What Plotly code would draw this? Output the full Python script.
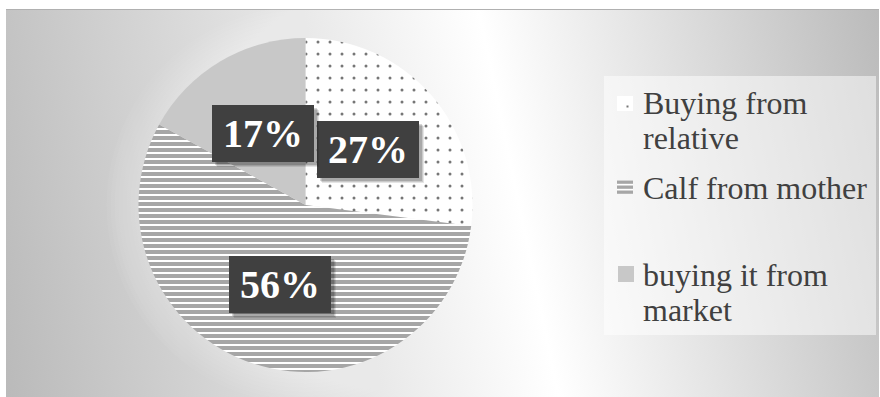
import base64
import math
import textwrap

import plotly.graph_objects as go

# ---- data ---------------------------------------------------------------
categories = ["Buying from relative", "Calf from mother", "buying it from market"]
shares = [27, 56, 17]

# ---- styling ------------------------------------------------------------
slice_bg = ["#ffffff", "#a6a6a6", "#c8c8c8"]
slice_fg = ["#767676", "#ffffff", "#c8c8c8"]
slice_shape = [".", "-", ""]
slice_size = [12, 6, 8]
slice_solid = [0.05, 0.33, 0.2]

W, H = 880, 397
SERIF = "Liberation Serif, Times New Roman, serif"

# pie placement in pixels
cx, cy, R = 305.5, 205.0, 167.0


def px_x(x):
    return x / W


def px_y(y):
    return 1 - y / H


fig = go.Figure()

fig.add_trace(go.Pie(
    labels=categories,
    values=shares,
    sort=False,
    direction="clockwise",
    rotation=0,
    textinfo="none",
    hoverinfo="label+percent",
    showlegend=False,
    domain=dict(x=[px_x(cx - R), px_x(cx + R)], y=[px_y(cy + R), px_y(cy - R)]),
    marker=dict(
        colors=slice_bg,
        line=dict(width=0),
        pattern=dict(
            shape=slice_shape,
            fgcolor=slice_fg,
            bgcolor=slice_bg,
            size=slice_size,
            solidity=slice_solid,
            fillmode="replace",
        ),
    ),
))

# ---- background: diagonal grey-white-grey gradient panel -----------------
fx0, fy0, fx1, fy1 = 6, 9, 879, 397
fw, fh = fx1 - fx0, fy1 - fy0
gx, gy = fw / 2, fh / 2
dx, dy = 0.979, -0.202
half = 466.5
svg = (
    f'<svg xmlns="http://www.w3.org/2000/svg" width="{fw}" height="{fh}">'
    f'<defs><linearGradient id="g" gradientUnits="userSpaceOnUse" '
    f'x1="{gx - dx * half:.1f}" y1="{gy - dy * half:.1f}" '
    f'x2="{gx + dx * half:.1f}" y2="{gy + dy * half:.1f}">'
    '<stop offset="0" stop-color="#bababa"/>'
    '<stop offset="0.58" stop-color="#ffffff"/>'
    '<stop offset="1" stop-color="#bbbbbb"/>'
    '</linearGradient></defs>'
    f'<rect width="{fw}" height="{fh}" fill="url(#g)"/>'
    f'<rect width="{fw}" height="1" fill="#b0b0b0"/>'
    '</svg>'
)
src = "data:image/svg+xml;base64," + base64.b64encode(svg.encode()).decode()
fig.add_layout_image(
    source=src, xref="paper", yref="paper",
    x=px_x(fx0), y=px_y(fy0), sizex=fw / W, sizey=fh / H,
    xanchor="left", yanchor="top", sizing="stretch", layer="below",
)

shapes = []

# soft halo around the pie
for k in range(8):
    r = R + 32 - k * 4
    shapes.append(dict(
        type="circle", xref="paper", yref="paper", layer="below",
        x0=px_x(cx - r), x1=px_x(cx + r), y0=px_y(cy + r), y1=px_y(cy - r),
        fillcolor="rgba(255,255,255,0.045)", line=dict(width=0),
    ))

# legend panel
shapes.append(dict(
    type="rect", xref="paper", yref="paper", layer="below",
    x0=px_x(604), x1=px_x(876), y0=px_y(335), y1=px_y(76),
    fillcolor="rgba(255,255,255,0.5)", line=dict(width=0),
))


def rect(x0, y0, x1, y1, color):
    return dict(type="rect", xref="paper", yref="paper", layer="above",
                x0=px_x(x0), x1=px_x(x1), y0=px_y(y1), y1=px_y(y0),
                fillcolor=color, line=dict(width=0))


# legend swatches
sw_x0, sw_x1 = 617, 633
legend_line_y = [[103, 138], [188], [275, 310]]
# dotted swatch
shapes.append(rect(sw_x0, 96, sw_x1, 111, "#ffffff"))
shapes.append(rect(626.5, 105.5, 628.5, 107.5, slice_fg[0]))
# striped swatch
shapes.append(rect(sw_x0, 180, sw_x1, 194, "#ffffff"))
for y0 in (180.5, 185.5, 190.5):
    shapes.append(rect(sw_x0, y0, sw_x1, y0 + 3.3, slice_bg[1]))
# solid swatch
shapes.append(rect(sw_x0 + 1, 266, sw_x1 + 1, 282, slice_bg[2]))

fig.update_layout(shapes=shapes)

# ---- percentage labels in dark boxes ------------------------------------
total = sum(shares)
cum = 0.0
BW, BH = 102, 57
for v in shares:
    mid = (cum + v / 2) / total * 2 * math.pi
    cum += v
    lx = cx + 0.5 * R * math.sin(mid)
    ly = cy - 0.5 * R * math.cos(mid)
    for off, a in ((5, 0.10), (4, 0.12), (3, 0.16)):
        fig.add_annotation(
            x=px_x(lx + off), y=px_y(ly + off), xref="paper", yref="paper",
            text=" ", showarrow=False, width=BW, height=BH,
            bgcolor=f"rgba(0,0,0,{a})", borderpad=0, borderwidth=0,
            xanchor="center", yanchor="middle",
        )
    fig.add_annotation(
        x=px_x(lx), y=px_y(ly), xref="paper", yref="paper",
        text=f"<b>{v / total * 100:.0f}%</b>", showarrow=False,
        width=BW, height=BH, bgcolor="#404040", borderpad=0, borderwidth=0,
        font=dict(family=SERIF, size=40, color="#ffffff"),
        xanchor="center", yanchor="middle", align="center", valign="middle",
    )

# ---- legend text --------------------------------------------------------
for name, ys in zip(categories, legend_line_y):
    lines = textwrap.wrap(name, width=16)
    for line, y in zip(lines, ys):
        fig.add_annotation(
            x=px_x(641), y=px_y(y), xref="paper", yref="paper",
            text=line, showarrow=False, xanchor="left", yanchor="middle",
            font=dict(family=SERIF, size=32, color="#404040"),
        )

fig.update_layout(
    width=W, height=H,
    margin=dict(l=0, r=0, t=0, b=0),
    paper_bgcolor="#ffffff",
    plot_bgcolor="#ffffff",
    showlegend=False,
)

fig.write_html("out.html")
